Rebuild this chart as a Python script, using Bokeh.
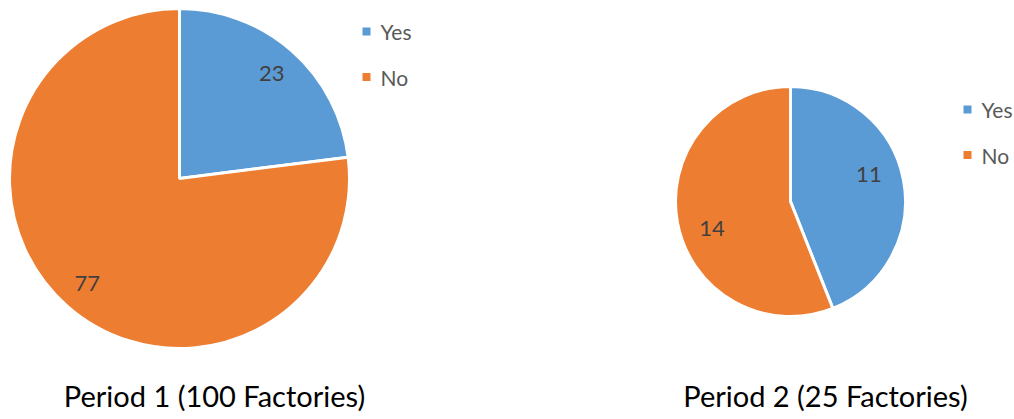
import math
from bokeh.plotting import figure
from bokeh.models import Range1d, ColumnDataSource
from bokeh.core.properties import value
from bokeh.embed import file_html
from bokeh.resources import INLINE

# ---- data ----
categories = ["Yes", "No"]
period1_values = [23, 77]
period2_values = [11, 14]
titles = ["Period 1 (100 Factories)", "Period 2 (25 Factories)"]
colors = ["#5B9BD5", "#ED7D31"]

W, H = 1014, 419
p = figure(width=W, height=H, output_backend="svg", toolbar_location=None,
           x_range=Range1d(0, W), y_range=Range1d(0, H), min_border=0)
p.axis.visible = False
p.grid.visible = False
p.outline_line_color = None
p.background_fill_color = "white"

FONT = "Lato"

def px(x):
    return x

def py(y):
    return H - y

# layout: (center_x, center_y, radius, label_ratio, label_angle_shift_deg, legend_x, legend_y0, title_x)
pies = [
    (period1_values, (179, 178, 170, 0.82, 0.0, 366, 31, 214, titles[0])),
    (period2_values, (790, 201, 115, 0.72, 8.0, 967, 109, 825, titles[1])),
]

for vals, (cx, cy, r, lr, shift, lgx, lgy, tx, title) in pies:
    total = float(sum(vals))
    starts, ends, lx, ly, labels = [], [], [], [], []
    acc = 0.0
    for v in vals:
        a0 = math.pi / 2 - 2 * math.pi * acc / total
        a1 = math.pi / 2 - 2 * math.pi * (acc + v) / total
        starts.append(a0)
        ends.append(a1)
        mid = (a0 + a1) / 2 + math.radians(shift)
        lx.append(px(cx) + lr * r * math.cos(mid))
        ly.append(py(cy) + lr * r * math.sin(mid))
        labels.append(str(v))
        acc += v
    src = ColumnDataSource(dict(start=starts, end=ends, color=colors,
                                x=[px(cx)] * len(vals), y=[py(cy)] * len(vals)))
    p.wedge(x="x", y="y", radius=r, start_angle="start", end_angle="end",
            direction="clock", fill_color="color", line_color="white",
            line_width=3, source=src)
    p.text(x=lx, y=ly, text=labels, text_font=value(FONT), text_font_size="22px",
           text_color="#404040", text_align="center", text_baseline="middle")
    # legend
    ys = [py(lgy + 45.5 * i) for i in range(len(categories))]
    p.scatter(x=[px(lgx)] * len(categories), y=ys, marker="square", size=8,
              fill_color=colors, line_color=None)
    p.text(x=[px(lgx + 14)] * len(categories), y=ys, text=categories,
           text_font=value(FONT), text_font_size="21px", text_color="#595959",
           text_align="left", text_baseline="middle")
    # title
    p.text(x=[px(tx)], y=[py(395)], text=[title], text_font=value(FONT),
           text_font_size="29px", text_color="#000000", text_align="center",
           text_baseline="middle")

open("out.html", "w").write(file_html(p, INLINE))
